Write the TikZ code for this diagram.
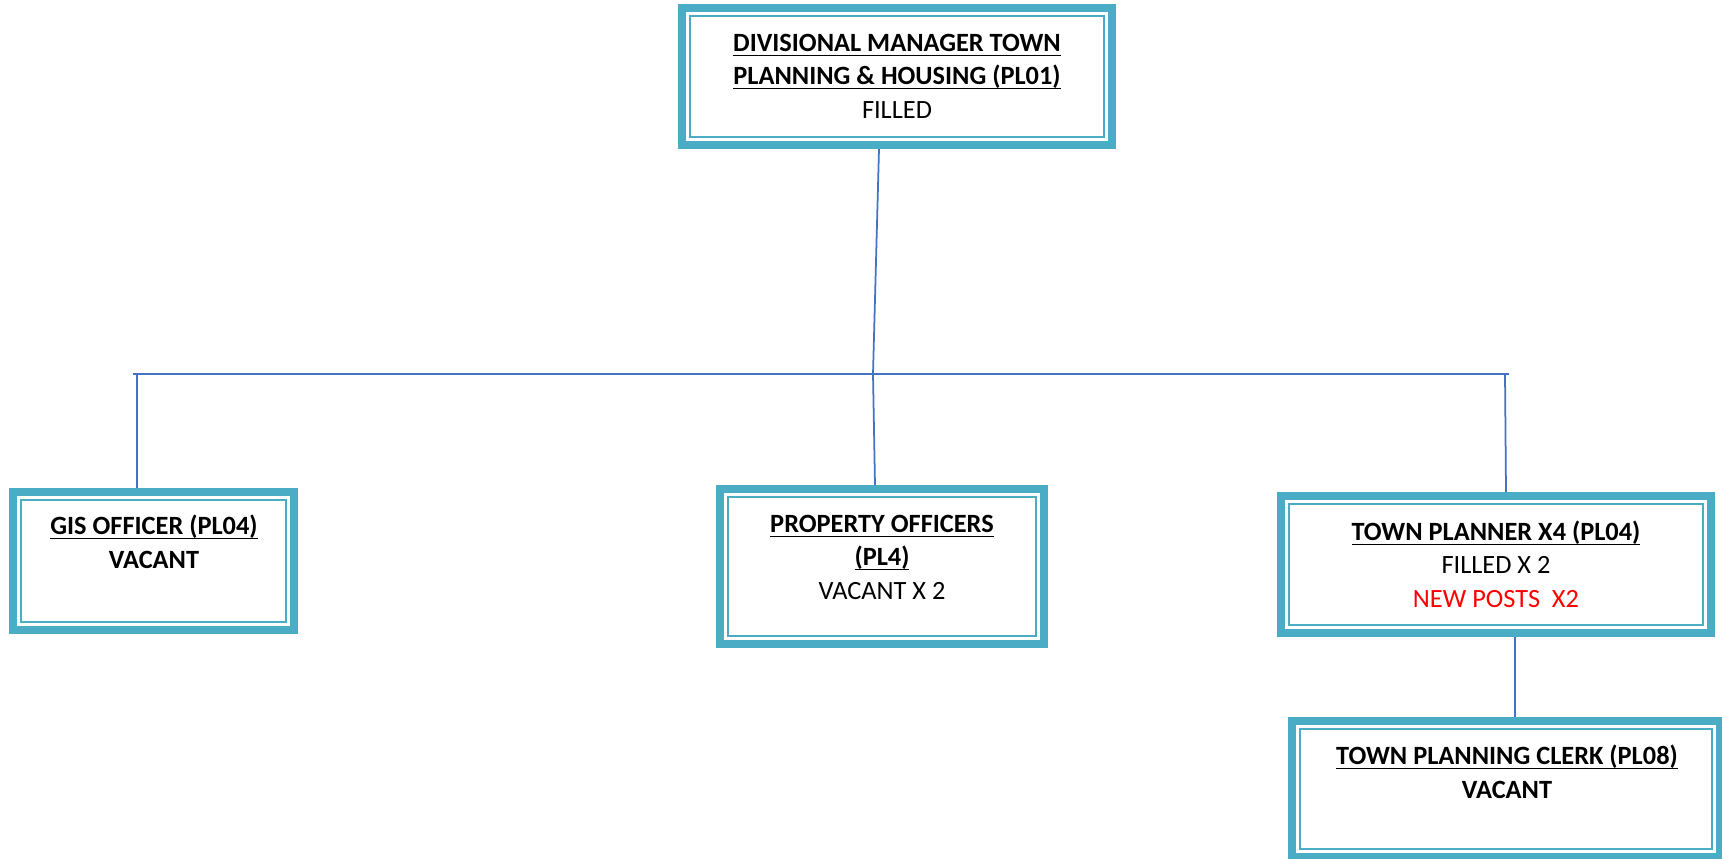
\documentclass[tikz,border=0pt]{standalone}
\usepackage{fontspec}
\setmainfont{Carlito}
\usetikzlibrary{calc}
\definecolor{boxteal}{HTML}{4BACC6}
\definecolor{linkblue}{HTML}{4472C4}
\newcommand{\postul}[1]{\setbox0\hbox{#1}\rlap{\rule[-0.17em]{\wd0}{0.07em}}\box0}
\newcommand{\postfont}{\fontsize{15pt}{18.8pt}\selectfont}

\begin{document}
\begin{tikzpicture}[x=0.2mm,y=-0.2mm,
  postbox/.style={rectangle,draw=boxteal,line width=1.6mm,fill=white,inner sep=0pt,
    path picture={\draw[boxteal,line width=0.4mm]
      ([shift={(1.6mm,1.6mm)}]path picture bounding box.south west) rectangle
      ([shift={(-1.6mm,-1.6mm)}]path picture bounding box.north east);}},
  posttext/.style={align=center,inner sep=0pt,anchor=base,font=\postfont},
  link/.style={draw=linkblue,line width=0.35mm}]

\useasboundingbox (0,0) rectangle (1722,858);

% Divisional manager (text placed on its last baseline)
\node (pl01) at (897,76.5) [postbox,minimum width=86mm,minimum height=27.4mm] {};
\node (pl01text) at (897,118) [posttext]
{\postul{\textbf{DIVISIONAL MANAGER TOWN}}\\ \postul{\textbf{PLANNING \& HOUSING (PL01)}}\\ FILLED};

% Second level
\node (gis) at (153.5,561) [postbox,minimum width=56.2mm,minimum height=27.6mm] {};
\node (gistext) at (154,568) [posttext] {\postul{\textbf{GIS OFFICER (PL04)}}\\ \textbf{VACANT}};

\node (prop) at (882,566.5) [postbox,minimum width=64.8mm,minimum height=31mm] {};
\node (proptext) at (882,599) [posttext]
{\postul{\textbf{PROPERTY OFFICERS}}\\ \postul{\textbf{(PL4)}}\\ VACANT X 2};

\node (tp) at (1496,564.5) [postbox,minimum width=86mm,minimum height=27.4mm] {};
\node (tptext) at (1496,607) [posttext]
{\postul{\textbf{TOWN PLANNER X4 (PL04)}}\\ FILLED X 2\\ \textcolor{red}{NEW POSTS\ \ X2}};

% Clerk
\node (clerk) at (1506,789) [postbox,minimum width=85.6mm,minimum height=27.2mm] {};
\node (clerktext) at (1507,798) [posttext]
{\postul{\textbf{TOWN PLANNING CLERK (PL08)}}\\ \textbf{VACANT}};

% Connectors
\coordinate (busL) at (133,374);
\coordinate (busM) at (873,374);
\coordinate (busR) at (1509,374);
\draw[link] (busL) -- (busR);
\draw[link] ($(pl01.south)+(-18,0)$) -- (busM) -- ($(prop.north)+(-7,0)$);
\draw[link] ($(busL)+(4,0)$) -- ($(gis.north)+(-16.5,0)$);
\draw[link] ($(busR)+(-4,0)$) -- ($(tp.north)+(10,0)$);
\draw[link] ($(tp.south)+(19,0)$) -- ($(clerk.north)+(9,0)$);
\end{tikzpicture}
\end{document}
